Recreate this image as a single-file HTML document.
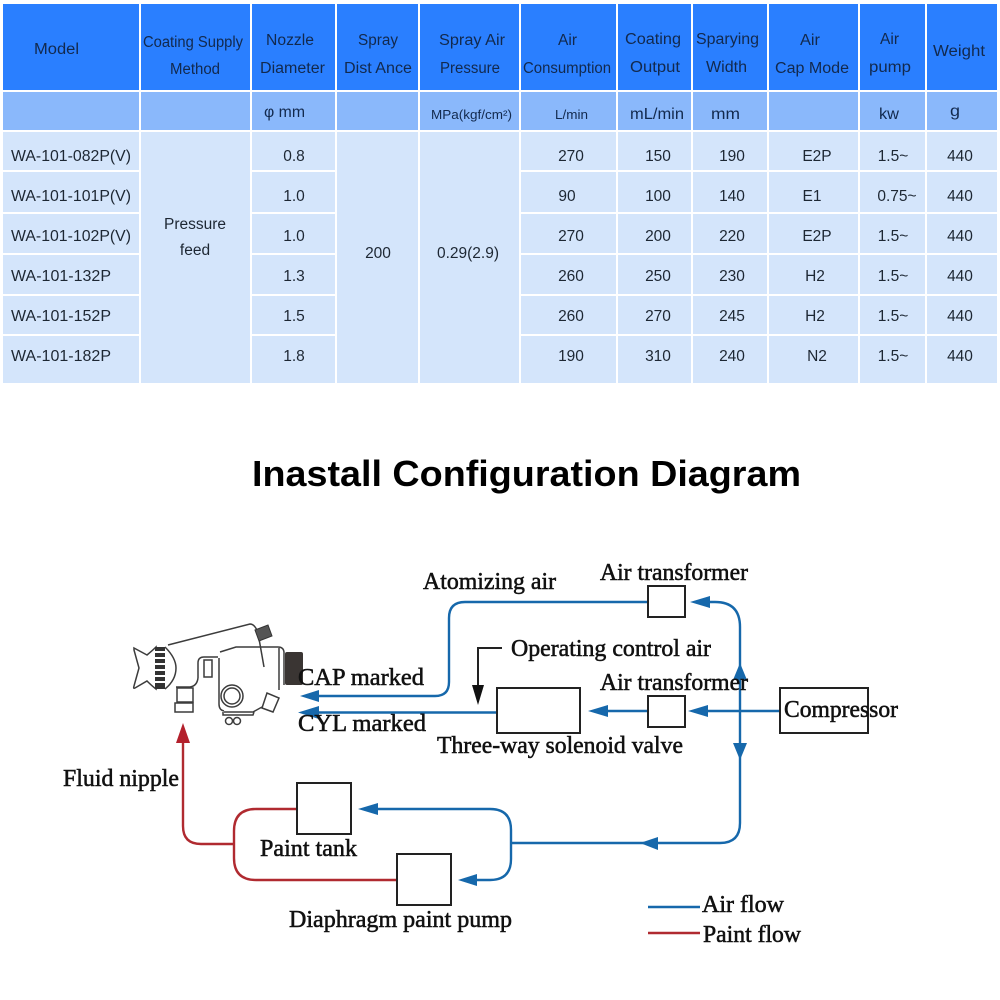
<!DOCTYPE html>
<html><head><meta charset="utf-8"><style>html,body{margin:0;padding:0;background:#fff}svg{display:block}
.t text{font-family:"Liberation Sans",sans-serif;font-size:15.5px;fill:#12294d}
.b text{font-family:"Liberation Sans",sans-serif;font-size:15.5px;fill:#1d2733}
.m text{text-anchor:middle}
.d text{font-family:"Liberation Serif",serif;font-size:24px;fill:#111;stroke:#111;stroke-width:.55}
.h{fill:#2a7fff}.s{fill:#8ab8fb}.r{fill:#d4e5fb}
</style></head><body>
<svg xmlns="http://www.w3.org/2000/svg" width="1000" height="1000" viewBox="0 0 1000 1000">
<rect width="1000" height="1000" fill="#fff"/>
<g class="h">
<rect x="3" y="4" width="136" height="86"/><rect x="141" y="4" width="109" height="86"/><rect x="252" y="4" width="83" height="86"/><rect x="337" y="4" width="81" height="86"/><rect x="420" y="4" width="99" height="86"/><rect x="521" y="4" width="95" height="86"/><rect x="618" y="4" width="73" height="86"/><rect x="693" y="4" width="74" height="86"/><rect x="769" y="4" width="89" height="86"/><rect x="860" y="4" width="65" height="86"/><rect x="927" y="4" width="70" height="86"/>
</g>
<g class="s">
<rect x="3" y="92" width="136" height="38"/><rect x="141" y="92" width="109" height="38"/><rect x="252" y="92" width="83" height="38"/><rect x="337" y="92" width="81" height="38"/><rect x="420" y="92" width="99" height="38"/><rect x="521" y="92" width="95" height="38"/><rect x="618" y="92" width="73" height="38"/><rect x="693" y="92" width="74" height="38"/><rect x="769" y="92" width="89" height="38"/><rect x="860" y="92" width="65" height="38"/><rect x="927" y="92" width="70" height="38"/>
</g>
<g class="r">
<rect x="141" y="132" width="109" height="251"/><rect x="337" y="132" width="81" height="251"/><rect x="420" y="132" width="99" height="251"/>
<rect x="3" y="132" width="136" height="38"/><rect x="3" y="172" width="136" height="40"/><rect x="3" y="214" width="136" height="39"/><rect x="3" y="255" width="136" height="39"/><rect x="3" y="296" width="136" height="38"/><rect x="3" y="336" width="136" height="47"/>
<rect x="252" y="132" width="83" height="38"/><rect x="252" y="172" width="83" height="40"/><rect x="252" y="214" width="83" height="39"/><rect x="252" y="255" width="83" height="39"/><rect x="252" y="296" width="83" height="38"/><rect x="252" y="336" width="83" height="47"/>
<rect x="521" y="132" width="95" height="38"/><rect x="521" y="172" width="95" height="40"/><rect x="521" y="214" width="95" height="39"/><rect x="521" y="255" width="95" height="39"/><rect x="521" y="296" width="95" height="38"/><rect x="521" y="336" width="95" height="47"/>
<rect x="618" y="132" width="73" height="38"/><rect x="618" y="172" width="73" height="40"/><rect x="618" y="214" width="73" height="39"/><rect x="618" y="255" width="73" height="39"/><rect x="618" y="296" width="73" height="38"/><rect x="618" y="336" width="73" height="47"/>
<rect x="693" y="132" width="74" height="38"/><rect x="693" y="172" width="74" height="40"/><rect x="693" y="214" width="74" height="39"/><rect x="693" y="255" width="74" height="39"/><rect x="693" y="296" width="74" height="38"/><rect x="693" y="336" width="74" height="47"/>
<rect x="769" y="132" width="89" height="38"/><rect x="769" y="172" width="89" height="40"/><rect x="769" y="214" width="89" height="39"/><rect x="769" y="255" width="89" height="39"/><rect x="769" y="296" width="89" height="38"/><rect x="769" y="336" width="89" height="47"/>
<rect x="860" y="132" width="65" height="38"/><rect x="860" y="172" width="65" height="40"/><rect x="860" y="214" width="65" height="39"/><rect x="860" y="255" width="65" height="39"/><rect x="860" y="296" width="65" height="38"/><rect x="860" y="336" width="65" height="47"/>
<rect x="927" y="132" width="70" height="38"/><rect x="927" y="172" width="70" height="40"/><rect x="927" y="214" width="70" height="39"/><rect x="927" y="255" width="70" height="39"/><rect x="927" y="296" width="70" height="38"/><rect x="927" y="336" width="70" height="47"/>
</g>
<g class="t">
<text x="34" y="54" textLength="45" lengthAdjust="spacingAndGlyphs">Model</text>
<text x="143" y="47" textLength="100" lengthAdjust="spacingAndGlyphs">Coating Supply</text>
<text x="170" y="74" textLength="50" lengthAdjust="spacingAndGlyphs">Method</text>
<text x="266" y="45" textLength="48" lengthAdjust="spacingAndGlyphs">Nozzle</text>
<text x="260" y="73" textLength="65" lengthAdjust="spacingAndGlyphs">Diameter</text>
<text x="358" y="45" textLength="40" lengthAdjust="spacingAndGlyphs">Spray</text>
<text x="344" y="73" textLength="68" lengthAdjust="spacingAndGlyphs">Dist Ance</text>
<text x="439" y="45" textLength="66" lengthAdjust="spacingAndGlyphs">Spray Air</text>
<text x="440" y="73" textLength="60" lengthAdjust="spacingAndGlyphs">Pressure</text>
<text x="558" y="45" textLength="19" lengthAdjust="spacingAndGlyphs">Air</text>
<text x="523" y="73" textLength="88" lengthAdjust="spacingAndGlyphs">Consumption</text>
<text x="625" y="44" textLength="56" lengthAdjust="spacingAndGlyphs">Coating</text>
<text x="630" y="72" textLength="50" lengthAdjust="spacingAndGlyphs">Output</text>
<text x="696" y="44" textLength="63" lengthAdjust="spacingAndGlyphs">Sparying</text>
<text x="706" y="72" textLength="41" lengthAdjust="spacingAndGlyphs">Width</text>
<text x="800" y="45" textLength="20" lengthAdjust="spacingAndGlyphs">Air</text>
<text x="775" y="73" textLength="74" lengthAdjust="spacingAndGlyphs">Cap Mode</text>
<text x="880" y="44" textLength="19" lengthAdjust="spacingAndGlyphs">Air</text>
<text x="869" y="72" textLength="42" lengthAdjust="spacingAndGlyphs">pump</text>
<text x="933" y="56" textLength="52" lengthAdjust="spacingAndGlyphs">Weight</text>
<text x="264" y="117" textLength="41" lengthAdjust="spacingAndGlyphs">φ mm</text>
<text x="431" y="119" textLength="81" lengthAdjust="spacingAndGlyphs" style="font-size:12.5px">MPa(kgf/cm²)</text>
<text x="555" y="119" textLength="33" lengthAdjust="spacingAndGlyphs" style="font-size:12.5px">L/min</text>
<text x="630" y="119" textLength="54" lengthAdjust="spacingAndGlyphs">mL/min</text>
<text x="711" y="119" textLength="29" lengthAdjust="spacingAndGlyphs">mm</text>
<text x="879" y="119" textLength="20" lengthAdjust="spacingAndGlyphs">kw</text>
<text x="950" y="116" textLength="10" lengthAdjust="spacingAndGlyphs">g</text>
</g>
<g class="b">
<text x="11" y="161" textLength="120" lengthAdjust="spacingAndGlyphs">WA-101-082P(V)</text>
<text x="11" y="201" textLength="120" lengthAdjust="spacingAndGlyphs">WA-101-101P(V)</text>
<text x="11" y="241" textLength="120" lengthAdjust="spacingAndGlyphs">WA-101-102P(V)</text>
<text x="11" y="281" textLength="100" lengthAdjust="spacingAndGlyphs">WA-101-132P</text>
<text x="11" y="321" textLength="100" lengthAdjust="spacingAndGlyphs">WA-101-152P</text>
<text x="11" y="361" textLength="100" lengthAdjust="spacingAndGlyphs">WA-101-182P</text>
</g>
<g class="b m">
<text x="195" y="229">Pressure</text><text x="195" y="255">feed</text>
<text x="378" y="258">200</text><text x="468" y="258">0.29(2.9)</text>
<text x="294" y="161">0.8</text><text x="294" y="201">1.0</text><text x="294" y="241">1.0</text><text x="294" y="281">1.3</text><text x="294" y="321">1.5</text><text x="294" y="361">1.8</text>
<text x="571" y="161">270</text><text x="567" y="201">90</text><text x="571" y="241">270</text><text x="571" y="281">260</text><text x="571" y="321">260</text><text x="571" y="361">190</text>
<text x="658" y="161">150</text><text x="658" y="201">100</text><text x="658" y="241">200</text><text x="658" y="281">250</text><text x="658" y="321">270</text><text x="658" y="361">310</text>
<text x="732" y="161">190</text><text x="732" y="201">140</text><text x="732" y="241">220</text><text x="732" y="281">230</text><text x="732" y="321">245</text><text x="732" y="361">240</text>
<text x="817" y="161">E2P</text><text x="812" y="201">E1</text><text x="817" y="241">E2P</text><text x="815" y="281">H2</text><text x="815" y="321">H2</text><text x="817" y="361">N2</text>
<text x="893" y="161">1.5~</text><text x="897" y="201">0.75~</text><text x="893" y="241">1.5~</text><text x="893" y="281">1.5~</text><text x="893" y="321">1.5~</text><text x="893" y="361">1.5~</text>
<text x="960" y="161">440</text><text x="960" y="201">440</text><text x="960" y="241">440</text><text x="960" y="281">440</text><text x="960" y="321">440</text><text x="960" y="361">440</text>
</g>
<text x="252" y="486" textLength="549" lengthAdjust="spacingAndGlyphs" style="font-family:'Liberation Sans',sans-serif;font-weight:bold;font-size:36px;fill:#000">Inastall Configuration Diagram</text>

<!-- connectors -->
<g fill="none" stroke="#1668ab" stroke-width="2.4">
<path d="M648 602H465Q449 602 449 618V682Q449 696 435 696H305"/>
<path d="M304 712.5H497"/>
<path d="M600 711H648M700 711H780"/>
<path d="M700 602H715Q740 602 740 627V823Q740 843 720 843H511"/>
<path d="M378 809H490Q511 809 511 830V859Q511 880 490 880H470"/>
<path d="M648 907H700"/>
</g>
<g fill="#1668ab">
<path d="M300 696L319 690V702Z"/><path d="M298 712.5L319 706V719Z"/>
<path d="M588 711L608 705V717Z"/><path d="M688 711L708 705V717Z"/>
<path d="M690 602L710 596V608Z"/>
<path d="M740 663L747 680H733Z"/><path d="M740 760L747 743H733Z"/>
<path d="M640 843L658 837V850Z"/><path d="M358 809L378 803V815Z"/><path d="M458 880L477 874V886Z"/>
</g>
<g fill="none" stroke="#b02a30" stroke-width="2.4">
<path d="M183 740V826Q183 844 201 844H234"/>
<path d="M297 809H256Q234 809 234 831V858Q234 880 256 880H397"/>
<path d="M648 933H700"/>
</g>
<path d="M183 723L190 743H176Z" fill="#b3202c"/>
<g fill="none" stroke="#222" stroke-width="2">
<rect x="648" y="586" width="37" height="31"/><rect x="648" y="696" width="37" height="31"/>
<rect x="497" y="688" width="83" height="45"/><rect x="780" y="688" width="88" height="45"/>
<rect x="297" y="783" width="54" height="51"/><rect x="397" y="854" width="54" height="51"/>
<path d="M502 648H478V690"/>
</g>
<path d="M478 705L472 685H484Z" fill="#111"/>

<!-- spray gun -->
<g fill="none" stroke="#3c3c3c" stroke-width="1.5">
<path d="M168 645L250 624Q255 624 258 633"/>
<path d="M258 633L264 667"/>
<path d="M134 648L147 655Q153 650 156 647V689Q152 686 147 681L135 688Q133 689 134 686L139 668L134 650Z"/>
<path d="M165 647Q176 658 176 668Q176 680 165 689"/>
<path d="M198 678V663Q198 657 204 657H218"/>
<path d="M204 660H212V677H204Z"/>
<path d="M198 678Q197 686 190 687H176"/>
<path d="M220 652L236 647H278Q284 647 284 653V685"/>
<path d="M219 658V704Q219 710 224 711"/>
<path d="M262 707L253 712H224"/>
<path d="M223 712V715H253L254 712"/>
<path d="M279 648V690"/>
<circle cx="232" cy="696" r="11"/><circle cx="232" cy="696" r="8"/>
<circle cx="229" cy="721" r="3.5"/><circle cx="237" cy="721" r="3.5"/>
<path d="M177 688H193V702H177Z"/><path d="M175 703H193V712H175Z"/>
<path d="M262 708L267 693L279 698L273 712Z"/>
</g>
<rect x="155" y="647" width="10" height="42" fill="#333"/>
<path d="M155 652H165M155 658H165M155 664H165M155 670H165M155 676H165M155 682H165" stroke="#fff" stroke-width="2"/>
<rect x="285" y="652" width="18" height="33" rx="2" fill="#3a3533"/>
<path d="M255 630L268 625L272 636L259 641Z" fill="#555" stroke="#333" stroke-width="1"/>

<!-- diagram labels -->
<g class="d">
<text x="423" y="589" textLength="133" lengthAdjust="spacingAndGlyphs">Atomizing air</text>
<text x="600" y="580" textLength="148" lengthAdjust="spacingAndGlyphs">Air transformer</text>
<text x="511" y="656" textLength="200" lengthAdjust="spacingAndGlyphs">Operating control air</text>
<text x="600" y="690" textLength="148" lengthAdjust="spacingAndGlyphs">Air transformer</text>
<text x="784" y="717" textLength="114" lengthAdjust="spacingAndGlyphs">Compressor</text>
<text x="437" y="753" textLength="246" lengthAdjust="spacingAndGlyphs">Three-way solenoid valve</text>
<text x="298" y="685" textLength="126" lengthAdjust="spacingAndGlyphs">CAP marked</text>
<text x="298" y="731" textLength="128" lengthAdjust="spacingAndGlyphs">CYL marked</text>
<text x="63" y="786" textLength="116" lengthAdjust="spacingAndGlyphs">Fluid nipple</text>
<text x="260" y="856" textLength="97" lengthAdjust="spacingAndGlyphs">Paint tank</text>
<text x="289" y="927" textLength="223" lengthAdjust="spacingAndGlyphs">Diaphragm paint pump</text>
<text x="702" y="912" textLength="82" lengthAdjust="spacingAndGlyphs">Air flow</text>
<text x="703" y="942" textLength="98" lengthAdjust="spacingAndGlyphs">Paint flow</text>
</g>
</svg>
</body></html>
